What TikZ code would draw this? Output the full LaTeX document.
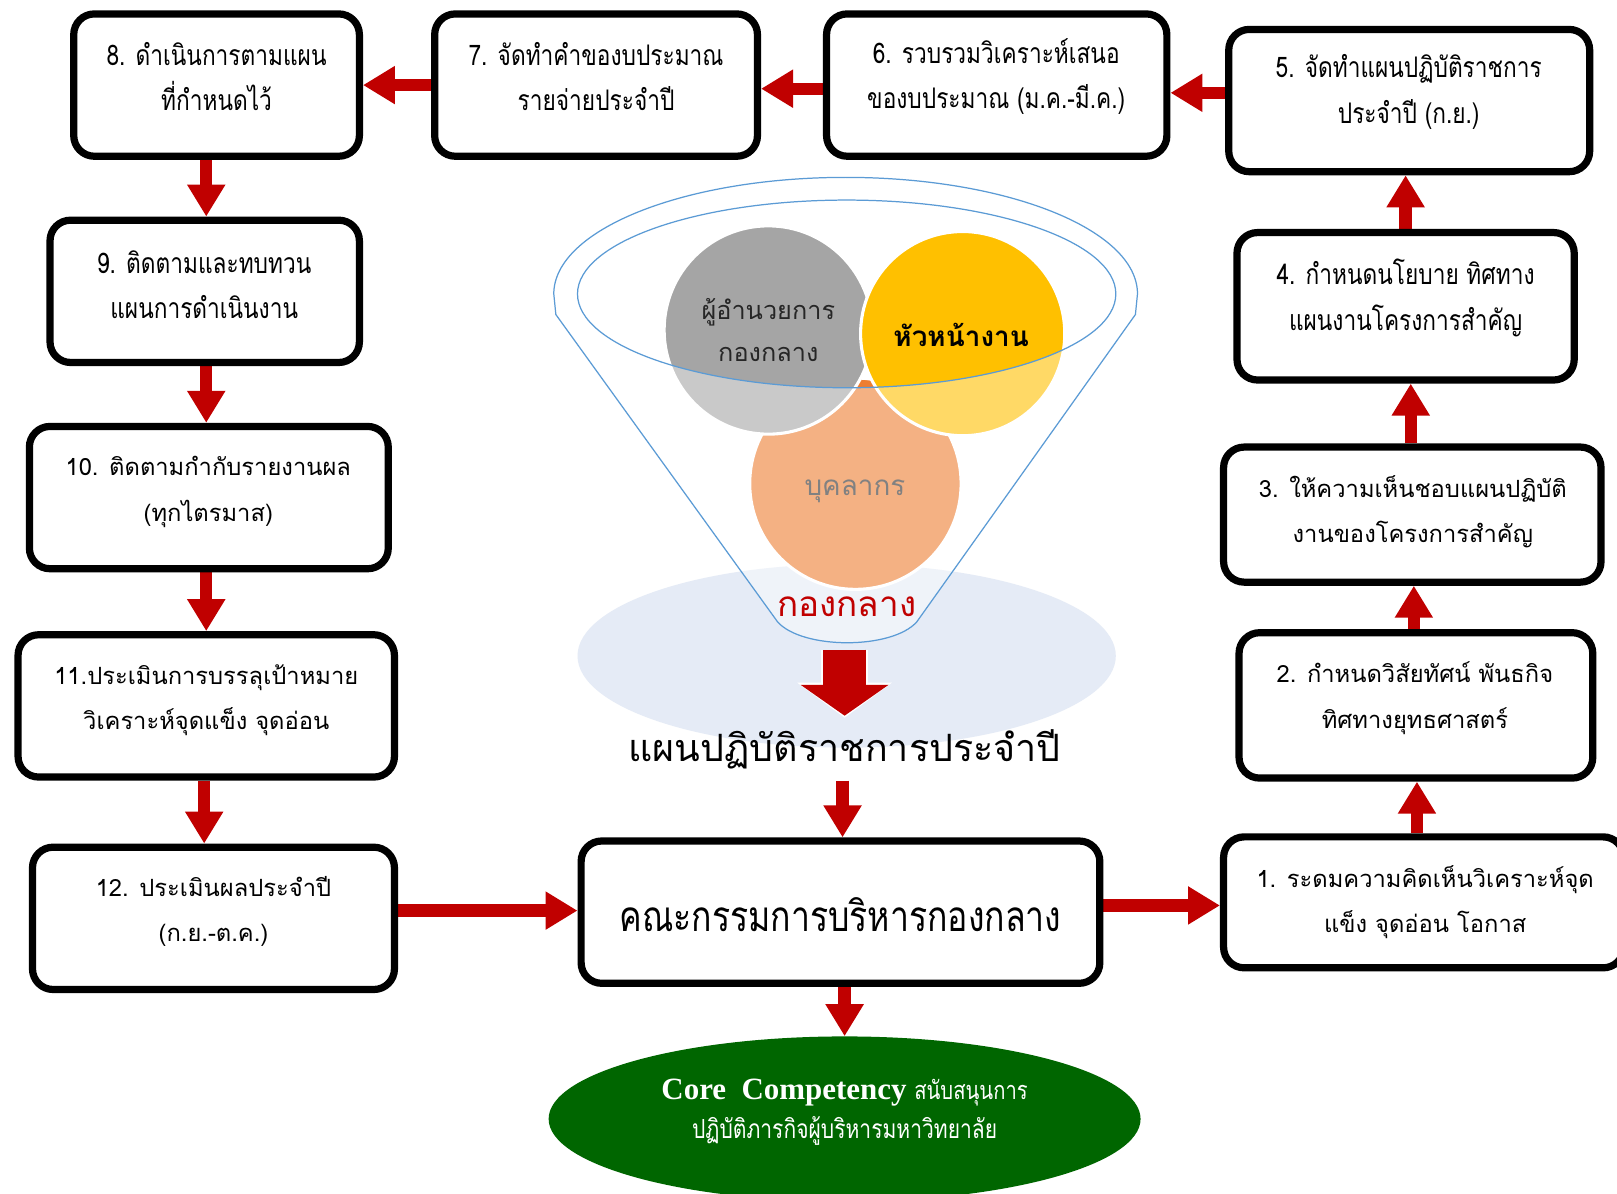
\documentclass[tikz,border=0pt]{standalone}
\usepackage{fontspec}
\usetikzlibrary{arrows.meta,shapes.geometric}
\setmainfont{Liberation Serif}
\newfontfamily\thaiL[Script=Thai]{Loma}
\newfontfamily\thaiN[Script=Thai,FakeStretch=0.8]{Loma}
\definecolor{arrred}{RGB}{192,0,0}
\definecolor{funblue}{RGB}{91,155,213}
\definecolor{shadowblue}{RGB}{229,235,246}
\definecolor{cgray}{RGB}{165,165,165}
\definecolor{cyellow}{RGB}{255,192,0}
\definecolor{corange}{RGB}{237,125,49}
\definecolor{coregreen}{RGB}{0,102,0}
\definecolor{darktxt}{RGB}{45,45,45}
\pgfdeclarelayer{back}
\pgfdeclarelayer{bg}
\pgfsetlayers{back,bg,main}
\tikzset{
  box/.style={draw=black, line width=7pt, rounded corners=20pt, fill=white, inner sep=0pt},
  nt/.style={font=\thaiN\fontsize{27.5}{44}\selectfont, align=center, inner sep=0pt},
  lt/.style={font=\thaiL\fontsize{23}{44}\selectfont, align=center, inner sep=0pt},
  blk/.style={draw=arrred, line width=12pt, -{Triangle[length=31pt,width=35pt]}},
  circ/.style={circle, draw=white, line width=3pt, inner sep=0pt, align=center}
}
\begin{document}
\begin{tikzpicture}[x=1pt,y=-1pt]
\path[use as bounding box] (0,0) rectangle (1568,1157);
\clip (0,0) rectangle (1568,1157);
\begin{pgfonlayer}{back}
\fill[white] (0,0) rectangle (1568,1157);
\end{pgfonlayer}

% funnel group
\fill[shadowblue] (821,636) ellipse[x radius=261, y radius=89];
\node[circ, fill=corange, minimum size=205] (corg) at (829.5,469) {};
\node[circ, fill=cgray, minimum size=202] (cgry) at (745,320) {};
\node[circ, fill=cyellow, minimum size=198] (cyel) at (933.5,323.5) {};
\node[lt, font=\thaiL\fontsize{27}{40}\selectfont, text=darktxt] (tb) at (829,476) {บุคลากร};
\fill[white, fill opacity=0.4, even odd rule]
  (537,285) arc[start angle=180, end angle=360, x radius=283, y radius=113]
  -- (1101,305) -- (889,603) .. controls (865,630) and (778,630) .. (754,603) -- (539,305) -- cycle
  (821,285) ellipse[x radius=261, y radius=91];
\draw[funblue, line width=1.2pt]
  (537,285) arc[start angle=180, end angle=360, x radius=283, y radius=113]
  -- (1101,305) -- (889,603) .. controls (865,630) and (778,630) .. (754,603) -- (539,305) -- cycle;
\draw[funblue, line width=1.2pt] (821,285) ellipse[x radius=261, y radius=91];
\node[lt, font=\thaiL\fontsize{24.5}{40}\selectfont, text=black!85] (tg) at (745,320) {ผู้อำนวยการ\\กองกลาง};
\node[lt, font=\thaiL\bfseries\fontsize{27}{40}\selectfont] (ty) at (932,325) {หัวหน้างาน};
\node[lt, font=\thaiL\fontsize{34}{40}\selectfont, text=arrred] (tk) at (821,588) {กองกลาง};
\coordinate (fa) at (819,630);
\coordinate (fb) at (819,694);
\draw[draw=white, line width=45pt, -{Triangle[length=34pt,width=90pt]}] (fa) -- ([yshift=-2pt]fb);
\draw[draw=arrred, line width=41pt, -{Triangle[length=30pt,width=84pt]}] (fa) -- (fb);

\node[lt, font=\thaiL\fontsize{36.5}{40}\selectfont] (plan) at (819,727) {แผนปฏิบัติราชการประจำปี};
\coordinate (planbot) at (817,757);

% boxes
\node[box, minimum width=277, minimum height=138] (b8) at (210,82.5) {};
\node[box, minimum width=313, minimum height=138] (b7) at (578,82.5) {};
\node[box, minimum width=330, minimum height=138] (b6) at (966.5,82.5) {};
\node[box, minimum width=350, minimum height=138] (b5) at (1366.5,97.5) {};
\node[box, minimum width=327, minimum height=143] (b4) at (1363,297) {};
\node[box, minimum width=366, minimum height=131] (b3) at (1369.5,499) {};
\node[box, minimum width=343, minimum height=141] (b2) at (1373,684) {};
\node[box, minimum width=388, minimum height=127] (b1) at (1380.5,875) {};
\node[box, minimum width=300, minimum height=138] (b9) at (198.5,282.5) {};
\node[box, minimum width=348, minimum height=138] (b10) at (202.5,482.5) {};
\node[box, minimum width=365, minimum height=138] (b11) at (200,684.5) {};
\node[box, minimum width=351, minimum height=138] (b12) at (207,890.5) {};
\node[box, minimum width=503, minimum height=138] (bc) at (815,884.5) {};

\node[nt] (t8) at (210,74) {8. ดำเนินการตามแผน\\ที่กำหนดไว้};
\node[nt] (t7) at (578,74) {7. จัดทำคำของบประมาณ\\รายจ่ายประจำปี};
\node[nt] (t6) at (966,74) {6. รวบรวมวิเคราะห์เสนอ\\ของบประมาณ (ม.ค.-มี.ค.)};
\node[nt] (t5) at (1366,89) {5. จัดทำแผนปฏิบัติราชการ\\ประจำปี (ก.ย.)};
\node[nt] (t4) at (1363,289) {4. กำหนดนโยบาย ทิศทาง\\แผนงานโครงการสำคัญ};
\node[nt] (t9) at (198,276) {9. ติดตามและทบทวน\\แผนการดำเนินงาน};
\node[lt] (t10) at (202,477) {10. ติดตามกำกับรายงานผล\\(ทุกไตรมาส)};
\node[lt] (t11) at (200,679) {11.ประเมินการบรรลุเป้าหมาย\\วิเคราะห์จุดแข็ง จุดอ่อน};
\node[lt] (t12) at (207,884) {12. ประเมินผลประจำปี\\(ก.ย.-ต.ค.)};
\node[lt] (t3) at (1370,496) {3. ให้ความเห็นชอบแผนปฏิบัติ\\งานของโครงการสำคัญ};
\node[lt] (t2) at (1372,677) {2. กำหนดวิสัยทัศน์ พันธกิจ\\ทิศทางยุทธศาสตร์};
\node[lt] (t1) at (1382,875) {1. ระดมความคิดเห็นวิเคราะห์จุด\\แข็ง จุดอ่อน โอกาส};
\node[nt, font=\thaiN\fontsize{41}{44}\selectfont] (tc) at (815,887) {คณะกรรมการบริหารกองกลาง};

% core competency
\node[ellipse, fill=coregreen, minimum width=574, minimum height=160, inner sep=0pt] (core) at (819,1085) {};
\node[inner sep=0pt, text=white, anchor=base] (core1) at (819,1066) {\fontsize{30}{36}\selectfont\bfseries Core\enspace Competency\ {\thaiN\mdseries\fontsize{24.5}{36}\selectfont สนับสนุนการ}};
\node[nt, text=white, font=\thaiN\fontsize{25.5}{36}\selectfont] (core2) at (819,1097) {ปฏิบัติภารกิจผู้บริหารมหาวิทยาลัย};

% connectors
\begin{pgfonlayer}{bg}
\draw[blk] (b7.west) -- (b8.east);
\draw[blk] ([yshift=-3.5pt]b6.west) -- ([yshift=-3.5pt]b7.east);
\draw[blk] ([yshift=7.5pt]b5.west) -- ([yshift=-7.5pt]b6.east);
\draw[blk] (b4.north) -- (b4.north |- b5.south);
\draw[blk] ([xshift=-1.5pt]b3.north) -- ([xshift=-1.5pt]b3.north |- b4.south);
\draw[blk] ([xshift=-2pt]b2.north) -- ([xshift=-2pt]b2.north |- b3.south);
\draw[blk] ([xshift=-6.5pt]b1.north) -- ([xshift=-6.5pt]b1.north |- b2.south);
\draw[blk] ([xshift=-10pt]b8.south) -- ([xshift=-10pt]b8.south |- b9.north);
\draw[blk] ([xshift=1.5pt]b9.south) -- ([xshift=1.5pt]b9.south |- b10.north);
\draw[blk] ([xshift=-2.5pt]b10.south) -- ([xshift=-2.5pt]b10.south |- b11.north);
\draw[blk] ([xshift=-2pt]b11.south) -- ([xshift=-2pt]b11.south |- b12.north);
\draw[blk] ([yshift=7.5pt]b12.east) -- ([yshift=7.5pt]b12.east -| bc.west);
\draw[blk] ([yshift=6.5pt]bc.east) -- ([yshift=6.5pt]bc.east -| b1.west);
\draw[blk] (planbot) -- (planbot |- bc.north);
\draw[blk] ([xshift=4pt]bc.south) -- ([xshift=4pt]bc.south |- core.north);
\end{pgfonlayer}
\end{tikzpicture}
\end{document}
